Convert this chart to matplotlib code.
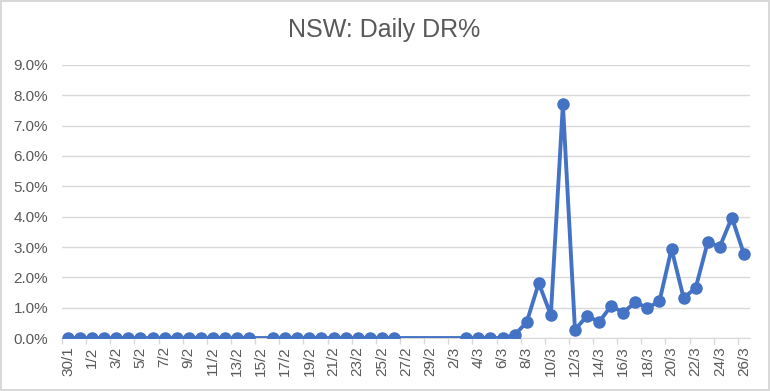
import matplotlib
matplotlib.use('Agg')
import matplotlib.pyplot as plt
import numpy as np
from matplotlib.ticker import PercentFormatter

# Dates shown on the category axis (30 Jan - 26 Mar)
dates = ['30/1', '31/1',
         '1/2', '2/2', '3/2', '4/2', '5/2', '6/2', '7/2', '8/2', '9/2', '10/2',
         '11/2', '12/2', '13/2', '14/2', '15/2', '16/2', '17/2', '18/2', '19/2',
         '20/2', '21/2', '22/2', '23/2', '24/2', '25/2', '26/2', '27/2', '28/2',
         '29/2',
         '1/3', '2/3', '3/3', '4/3', '5/3', '6/3', '7/3', '8/3', '9/3', '10/3',
         '11/3', '12/3', '13/3', '14/3', '15/3', '16/3', '17/3', '18/3', '19/3',
         '20/3', '21/3', '22/3', '23/3', '24/3', '25/3', '26/3']

nan = np.nan
# Daily DR% (fraction), NaN = no data that day
dr = [0, 0,
      0, 0, 0, 0, 0, 0, 0, 0, 0, 0,
      0, 0, 0, 0, nan, 0, 0, 0, 0,
      0, 0, 0, 0, 0, 0, 0, nan, nan,
      nan,
      nan, nan, 0, 0, 0, 0, 0.001, 0.0052, 0.0181, 0.0076,
      0.0770, 0.0027, 0.0073, 0.0053, 0.0106, 0.0084, 0.0118, 0.0099, 0.0121,
      0.0294, 0.0132, 0.0165, 0.0316, 0.0301, 0.0397, 0.0277]

text_col = '#595959'
grid_col = '#d9d9d9'
line_col = '#4472C4'

plt.rcParams['font.family'] = ['Liberation Sans', 'DejaVu Sans']

fig = plt.figure(figsize=(7.7, 3.91), dpi=100)
fig.patch.set_edgecolor(grid_col)
fig.patch.set_linewidth(1.5)
ax = fig.add_axes([0.0805, 0.1355, 0.8935, 0.6983])

x = np.arange(len(dates))
y = np.array(dr, dtype=float)
ok = ~np.isnan(y)
ax.plot(x[ok], y[ok], color=line_col, lw=2.8, marker='o', ms=8,
        markerfacecolor=line_col, markeredgecolor=line_col, zorder=3)

ax.set_xlim(-0.5, len(dates) - 0.5)
ax.set_ylim(0, 0.09)
ax.set_yticks(np.arange(0, 0.0901, 0.01))
ax.yaxis.set_major_formatter(PercentFormatter(1.0, decimals=1))
ax.grid(axis='y', color=grid_col, lw=1)
ax.set_axisbelow(True)

ax.set_xticks(x[::2])
ax.set_xticklabels(dates[::2], rotation=90)
ax.set_xticks(x[::2] - 0.5, minor=True)
ax.tick_params(axis='x', which='major', length=0, pad=6, labelsize=11, labelcolor=text_col)
ax.tick_params(axis='x', which='minor', length=4, color=grid_col, width=1)
ax.tick_params(axis='y', length=0, pad=10, labelsize=11, labelcolor=text_col)

for s in ['top', 'right', 'left']:
    ax.spines[s].set_visible(False)
ax.spines['bottom'].set_color(grid_col)

fig.text(0.4987, 0.922, 'NSW: Daily DR%', ha='center', va='center',
         fontsize=18, color=text_col)

fig.savefig('out.png', dpi=100)
